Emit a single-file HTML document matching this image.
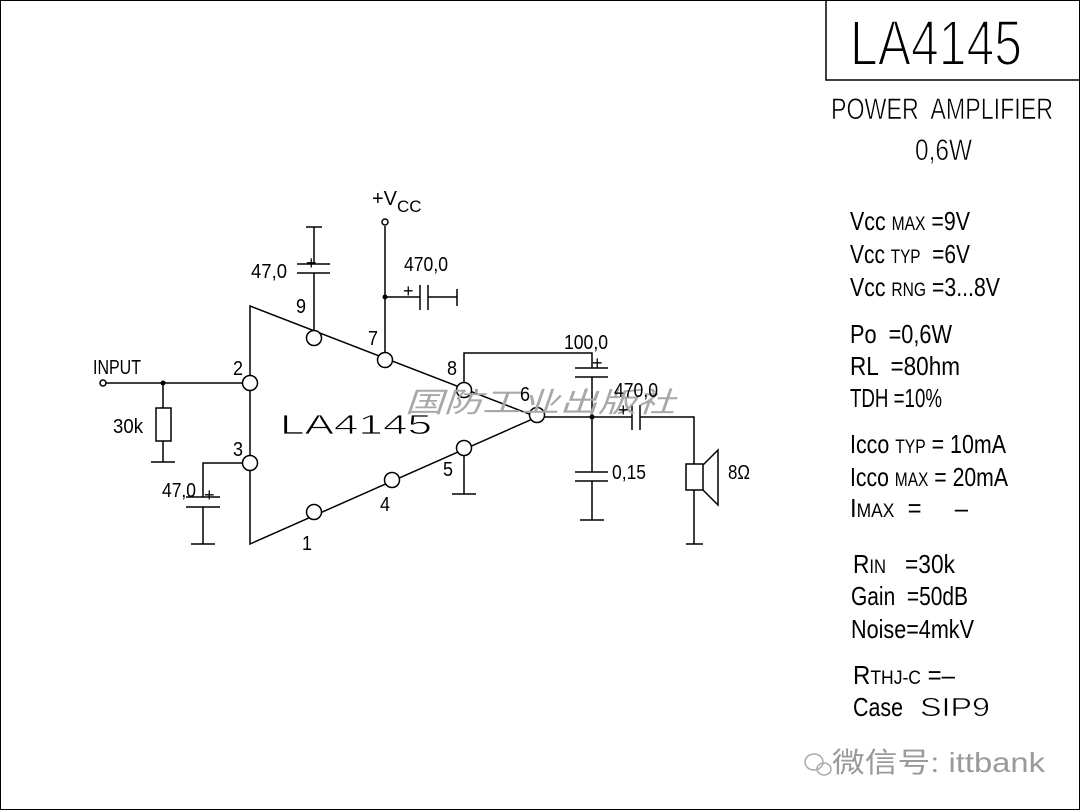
<!DOCTYPE html>
<html><head><meta charset="utf-8"><style>
html,body{margin:0;padding:0;background:#fff}
svg{display:block}
text{font-family:"Liberation Sans","Noto Sans CJK SC",sans-serif;fill:#000;white-space:pre}
</style></head><body>
<svg width="1080" height="810" viewBox="0 0 1080 810" xmlns="http://www.w3.org/2000/svg" xml:space="preserve">
<rect x="0.5" y="0.5" width="1079" height="809" fill="#fff" stroke="#000" stroke-width="1"/>
<path d="M826 0 V80 H1080" fill="none" stroke="#000" stroke-width="1.5"/>
<g stroke="#000" stroke-width="1.5" fill="none">
<path d="M250 306 L537 417 L250 544 Z"/>
<line x1="106" y1="383" x2="242" y2="383"/>
<line x1="163" y1="383" x2="163" y2="408"/>
<rect x="156" y="408" width="15" height="33"/>
<line x1="163" y1="441" x2="163" y2="462"/>
<line x1="151" y1="462" x2="175" y2="462"/>
<path d="M242 463 H203 V497"/>
<line x1="186" y1="497" x2="220" y2="497"/>
<line x1="186" y1="507" x2="220" y2="507"/>
<line x1="203" y1="507" x2="203" y2="544"/>
<line x1="191" y1="544" x2="215" y2="544"/>
<line x1="314" y1="227" x2="314" y2="264"/>
<line x1="306" y1="227" x2="322" y2="227"/>
<line x1="297" y1="264" x2="330" y2="264"/>
<line x1="297" y1="273" x2="330" y2="273"/>
<line x1="314" y1="273" x2="314" y2="330"/>
<line x1="385" y1="226" x2="385" y2="352"/>
<line x1="385" y1="297" x2="420" y2="297"/>
<line x1="420" y1="285" x2="420" y2="310"/>
<line x1="428" y1="285" x2="428" y2="310"/>
<line x1="428" y1="297" x2="457" y2="297"/>
<line x1="457" y1="289" x2="457" y2="306"/>
<path d="M464 382 V353 H592 V368"/>
<line x1="575" y1="368" x2="608" y2="368"/>
<line x1="575" y1="377" x2="608" y2="377"/>
<line x1="592" y1="377" x2="592" y2="472"/>
<line x1="575" y1="472" x2="608" y2="472"/>
<line x1="575" y1="481" x2="608" y2="481"/>
<line x1="592" y1="481" x2="592" y2="520"/>
<line x1="580" y1="520" x2="604" y2="520"/>
<line x1="545" y1="417" x2="632" y2="417"/>
<line x1="632" y1="405" x2="632" y2="430"/>
<line x1="640" y1="405" x2="640" y2="430"/>
<path d="M640 417 H694 V464"/>
<rect x="686" y="464" width="17" height="26"/>
<path d="M703 465 L718 450 V505 L703 490"/>
<line x1="694" y1="490" x2="694" y2="544"/>
<line x1="686" y1="544" x2="703" y2="544"/>
<line x1="464" y1="456" x2="464" y2="494"/>
<line x1="452" y1="494" x2="476" y2="494"/>
</g>
<g stroke="#000" stroke-width="1.5" fill="#fff">
<circle cx="314" cy="338" r="7.5"/>
<circle cx="385" cy="360" r="7.5"/>
<circle cx="464" cy="390" r="7.5"/>
<circle cx="537" cy="415" r="7.5"/>
<circle cx="250" cy="383" r="7.5"/>
<circle cx="250" cy="463" r="7.5"/>
<circle cx="314" cy="512" r="7.5"/>
<circle cx="392" cy="480" r="7.5"/>
<circle cx="464" cy="448" r="7.5"/>
<circle cx="103" cy="383" r="3"/>
<circle cx="385" cy="222" r="3"/>
</g>
<g fill="#000"><circle cx="163" cy="383" r="2.5"/><circle cx="385" cy="297" r="2.5"/><circle cx="592" cy="417" r="2.5"/></g>
<text x="405" y="412" font-size="28" style="fill:#a8a8a8" textLength="270" lengthAdjust="spacingAndGlyphs" font-style="italic">国防工业出版社</text>
<g font-size="20">
<text x="93" y="374" textLength="48" lengthAdjust="spacingAndGlyphs">INPUT</text>
<text x="113" y="433" textLength="30" lengthAdjust="spacingAndGlyphs">30k</text>
<text x="162" y="497" textLength="34" lengthAdjust="spacingAndGlyphs">47,0</text>
<text x="251" y="278" textLength="36" lengthAdjust="spacingAndGlyphs">47,0</text>
<text x="404" y="271" textLength="44" lengthAdjust="spacingAndGlyphs">470,0</text>
<text x="564" y="349" textLength="44" lengthAdjust="spacingAndGlyphs">100,0</text>
<text x="614" y="397" textLength="44" lengthAdjust="spacingAndGlyphs">470,0</text>
<text x="612" y="479" textLength="34" lengthAdjust="spacingAndGlyphs">0,15</text>
<text x="728" y="479" textLength="22" lengthAdjust="spacingAndGlyphs">8Ω</text>
<text x="233" y="375" textLength="10" lengthAdjust="spacingAndGlyphs">2</text><text x="233" y="456" textLength="10" lengthAdjust="spacingAndGlyphs">3</text>
<text x="296" y="313" textLength="10" lengthAdjust="spacingAndGlyphs">9</text><text x="368" y="345" textLength="10" lengthAdjust="spacingAndGlyphs">7</text>
<text x="447" y="375" textLength="10" lengthAdjust="spacingAndGlyphs">8</text><text x="520" y="401" textLength="10" lengthAdjust="spacingAndGlyphs">6</text>
<text x="443" y="476" textLength="10" lengthAdjust="spacingAndGlyphs">5</text><text x="380" y="511" textLength="10" lengthAdjust="spacingAndGlyphs">4</text>
<text x="302" y="550" textLength="10" lengthAdjust="spacingAndGlyphs">1</text>
<text x="372" y="205">+V<tspan font-size="17" dy="7">CC</tspan></text>
<text x="306" y="269" font-size="18">+</text>
<text x="204" y="501" font-size="18">+</text>
<text x="403" y="297" font-size="18">+</text>
<text x="592" y="369" font-size="18">+</text>
<text x="618" y="416" font-size="18">+</text>
</g>
<text x="280" y="434" font-size="28" stroke="#fff" stroke-width="0.8" textLength="152" lengthAdjust="spacingAndGlyphs">LA4145</text>
<text x="850" y="65" font-size="64" stroke="#fff" stroke-width="2" textLength="172" lengthAdjust="spacingAndGlyphs">LA4145</text>
<text x="831" y="119" font-size="30" stroke="#fff" stroke-width="0.6" textLength="222" lengthAdjust="spacingAndGlyphs">POWER  AMPLIFIER</text>
<text x="915" y="160" font-size="30" stroke="#fff" stroke-width="0.6" textLength="57" lengthAdjust="spacingAndGlyphs">0,6W</text>
<g font-size="26">
<text x="850" y="230" textLength="120" lengthAdjust="spacingAndGlyphs">Vcc <tspan font-size="19">MAX</tspan> =9V</text>
<text x="850" y="263" textLength="120" lengthAdjust="spacingAndGlyphs">Vcc <tspan font-size="19">TYP</tspan>  =6V</text>
<text x="850" y="296" textLength="150" lengthAdjust="spacingAndGlyphs">Vcc <tspan font-size="19">RNG</tspan> =3...8V</text>
<text x="850" y="343" textLength="102" lengthAdjust="spacingAndGlyphs">Po  =0,6W</text>
<text x="850" y="375" textLength="110" lengthAdjust="spacingAndGlyphs">RL  =80hm</text>
<text x="850" y="407" textLength="92" lengthAdjust="spacingAndGlyphs">TDH =10%</text>
<text x="850" y="453" textLength="156" lengthAdjust="spacingAndGlyphs">Icco <tspan font-size="19">TYP</tspan> = 10mA</text>
<text x="850" y="486" textLength="158" lengthAdjust="spacingAndGlyphs">Icco <tspan font-size="19">MAX</tspan> = 20mA</text>
<text x="850" y="517" textLength="118" lengthAdjust="spacingAndGlyphs">I<tspan font-size="19">MAX</tspan>  =     –</text>
<text x="853" y="573" textLength="102" lengthAdjust="spacingAndGlyphs">R<tspan font-size="19">IN</tspan>   =30k</text>
<text x="851" y="605" textLength="117" lengthAdjust="spacingAndGlyphs">Gain  =50dB</text>
<text x="851" y="638" textLength="123" lengthAdjust="spacingAndGlyphs">Noise=4mkV</text>
<text x="853" y="684" textLength="102" lengthAdjust="spacingAndGlyphs">R<tspan font-size="19">THJ-C</tspan> =–</text>
<text x="853" y="716" textLength="50" lengthAdjust="spacingAndGlyphs">Case</text>
<text x="920" y="716" stroke="#fff" stroke-width="0.6" textLength="70" lengthAdjust="spacingAndGlyphs">SIP9</text>
</g>
<g fill="none" stroke="#aaa" stroke-width="1.5"><ellipse cx="814" cy="762" rx="9" ry="8"/><ellipse cx="824" cy="769" rx="7" ry="6"/></g>
<text x="832" y="772" font-size="28" style="fill:#9a9a9a" textLength="213" lengthAdjust="spacingAndGlyphs">微信号: ittbank</text>
</svg>
</body></html>
